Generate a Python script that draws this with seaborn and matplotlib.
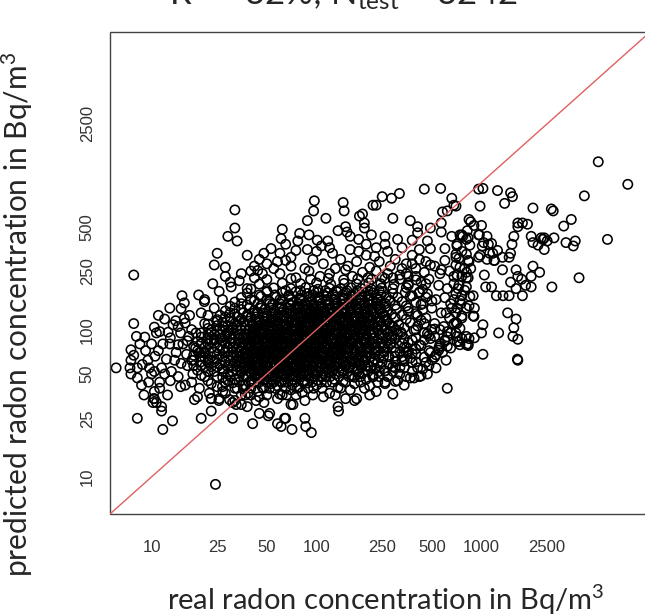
import matplotlib.pyplot as plt
import seaborn as sns
from matplotlib.patches import Rectangle

# (real, predicted) radon concentration in Bq/m3
core_points = [
    (32, 33), (45, 35), (58, 34), (66, 36), (85, 33), (110, 35), (150, 34), (210, 36),
    (28, 37), (36, 39.5), (44, 38), (52, 40), (60, 36.5), (70, 39), (82, 37.5), (96, 40), (120, 37), (160, 39), (230, 38), (290, 36.5),
    (25, 41), (31, 43.5), (37, 42), (42, 44), (47, 40.5), (53, 43), (58, 41.5), (64, 44), (71, 42), (78, 40.5), (88, 43.5), (100, 42),
    (115, 44), (135, 40.5), (170, 43), (210, 41.5), (260, 44), (340, 42),
    (22, 45), (27, 47.5), (32, 46), (36, 48), (40, 44.5), (44, 47), (48, 45.5), (52, 48), (56, 46), (61, 44.5), (66, 47.5), (72, 46),
    (78, 48), (85, 44.5), (93, 47), (102, 45.5), (114, 48), (128, 46), (145, 44.5), (170, 47.5), (200, 46), (240, 48), (300, 44.5), (390, 47),
    (20, 49), (24, 52), (29, 50), (33, 52.5), (37, 48.5), (40, 51), (43, 49.5), (46, 52.5), (50, 50), (54, 48.5), (58, 51.5), (62, 50),
    (67, 52.5), (72, 48.5), (77, 51), (83, 49.5), (90, 52.5), (98, 50), (107, 48.5), (118, 51.5), (130, 50), (145, 52.5), (165, 48.5),
    (190, 51), (220, 49.5), (260, 52.5), (320, 50), (430, 48.5),
    (19, 53), (23, 56), (27, 54), (31, 56.5), (35, 52.5), (38, 55), (41, 53.5), (44, 56.5), (47, 54), (51, 52.5), (55, 55.5), (59, 54),
    (63, 56.5), (68, 52.5), (73, 55), (78, 53.5), (84, 56.5), (91, 54), (99, 52.5), (108, 55.5), (118, 54), (130, 56.5), (143, 52.5),
    (158, 55), (176, 53.5), (198, 56.5), (225, 54), (260, 52.5), (320, 55.5), (440, 54),
    (18, 57), (22, 60), (26, 58), (30, 61), (34, 56.5), (37, 59.5), (40, 57.5), (43, 60.5), (46, 58), (49, 56.5), (53, 59.5), (57, 58),
    (61, 61), (65, 56.5), (70, 59), (75, 57.5), (80, 60.5), (86, 58), (93, 56.5), (100, 59.5), (108, 58), (117, 61), (127, 56.5),
    (138, 59), (150, 57.5), (165, 60.5), (182, 58), (205, 56.5), (235, 59.5), (275, 58), (340, 61), (480, 57),
    (18, 62), (21, 65), (25, 63), (29, 66), (33, 61), (36, 64), (39, 62.5), (42, 65.5), (45, 63), (48, 61), (51, 64.5), (55, 63),
    (59, 66), (63, 61), (67, 64), (72, 62.5), (77, 65.5), (82, 63), (88, 61), (95, 64.5), (102, 63), (110, 66), (119, 61), (129, 64),
    (140, 62.5), (152, 65.5), (166, 63), (182, 61), (200, 64.5), (225, 63), (255, 66), (300, 61), (370, 64), (500, 62.5),
    (18, 67), (21, 70), (25, 68), (29, 71), (33, 66), (36, 69), (39, 67.5), (42, 70.5), (45, 68), (48, 66), (51, 69.5), (55, 68),
    (59, 71), (63, 66), (67, 69), (72, 67.5), (77, 70.5), (82, 68), (88, 66), (95, 69.5), (102, 68), (110, 71), (119, 66), (129, 69),
    (140, 67.5), (152, 70.5), (166, 68), (182, 66), (200, 69.5), (225, 68), (255, 71), (300, 66), (380, 69), (530, 67.5),
    (19, 72), (23, 75), (27, 73), (31, 76), (35, 71), (38, 74), (41, 72.5), (44, 75.5), (47, 73), (50, 71), (54, 74.5), (58, 73),
    (62, 76), (66, 71), (70, 74), (75, 72.5), (80, 75.5), (86, 73), (92, 71), (99, 74.5), (106, 73), (114, 76), (123, 71), (133, 74),
    (144, 72.5), (157, 75.5), (172, 73), (190, 71), (210, 74.5), (235, 73), (270, 76), (320, 71), (400, 74), (550, 72.5),
    (18, 77), (22, 80), (26, 78), (30, 81), (34, 76), (37, 79), (40, 77.5), (43, 80.5), (46, 78), (49, 76), (53, 79.5), (57, 78),
    (61, 81), (65, 76), (70, 79), (75, 77.5), (80, 80.5), (86, 78), (93, 76), (100, 79.5), (108, 78), (117, 81), (127, 76), (138, 79),
    (150, 77.5), (165, 80.5), (182, 78), (200, 76), (222, 79.5), (250, 78), (285, 81), (340, 76), (420, 79), (560, 77.5),
    (19, 83), (23, 86), (27, 84), (31, 87), (35, 82), (38, 85), (41, 83.5), (44, 86.5), (48, 84), (52, 82), (56, 85.5), (60, 84),
    (64, 87), (69, 82), (74, 85), (79, 83.5), (85, 86.5), (91, 84), (98, 82), (106, 85.5), (114, 84), (123, 87), (133, 82), (145, 85),
    (158, 83.5), (172, 86.5), (190, 84), (210, 82), (235, 85.5), (265, 84), (300, 87), (360, 82), (450, 85), (600, 83.5),
    (20, 89), (24, 92), (28, 90), (32, 93), (36, 88), (40, 91), (43, 89.5), (47, 92.5), (51, 90), (55, 88), (59, 91.5), (63, 90),
    (68, 93), (73, 88), (78, 91), (84, 89.5), (90, 92.5), (97, 90), (104, 88), (112, 91.5), (121, 90), (131, 93), (142, 88), (154, 91),
    (168, 89.5), (184, 92.5), (202, 90), (224, 88), (250, 91.5), (285, 90), (330, 93), (400, 88), (480, 91), (620, 89.5),
    (20, 95), (25, 98), (29, 96), (33, 99), (37, 94), (41, 97), (45, 95.5), (49, 98.5), (53, 96), (57, 94), (62, 97.5), (67, 96),
    (72, 99), (77, 94), (83, 97), (89, 95.5), (96, 98.5), (103, 96), (111, 94), (120, 97.5), (130, 96), (141, 99), (153, 94), (167, 97),
    (183, 95.5), (200, 98.5), (222, 96), (248, 94), (280, 97.5), (325, 96), (390, 99), (470, 94),
    (22, 102), (27, 105), (31, 103), (35, 106), (39, 101), (43, 104), (47, 102.5), (51, 105.5), (55, 103), (60, 101), (65, 104.5),
    (70, 103), (75, 106), (81, 101), (87, 104), (94, 102.5), (101, 105.5), (109, 103), (117, 101), (126, 104.5), (136, 103), (147, 106),
    (160, 101), (174, 104), (190, 102.5), (208, 105.5), (230, 103), (258, 101), (292, 104.5), (340, 103), (410, 106), (520, 101),
    (22, 109), (27, 112), (32, 110), (36, 113), (41, 108), (45, 111), (50, 109.5), (55, 112.5), (60, 110), (65, 108), (70, 111.5),
    (76, 110), (82, 113), (89, 108), (96, 111), (104, 109.5), (112, 112.5), (121, 110), (131, 108), (142, 111.5), (154, 110), (168, 113),
    (183, 108), (200, 111), (220, 109.5), (245, 112.5), (275, 110), (315, 108), (370, 111.5), (450, 110),
    (25, 117), (30, 120), (35, 118), (40, 121), (45, 116), (50, 119), (55, 117.5), (60, 120.5), (66, 118), (72, 116), (78, 119.5),
    (85, 118), (92, 121), (100, 116), (108, 119), (117, 117.5), (127, 120.5), (138, 118), (150, 116), (163, 119.5), (178, 118),
    (195, 121), (215, 116), (238, 119), (265, 117.5), (300, 120.5), (350, 118), (430, 116),
    (26, 125), (32, 128), (38, 126), (44, 129), (50, 124), (56, 127), (62, 125.5), (68, 128.5), (74, 126), (81, 124), (88, 127.5),
    (96, 126), (104, 129), (113, 124), (123, 127), (134, 125.5), (146, 128.5), (159, 126), (174, 124), (190, 127.5), (208, 126),
    (230, 129), (255, 124), (285, 127), (330, 125.5), (400, 128.5),
    (28, 134), (35, 137), (42, 135), (49, 138), (56, 133), (63, 136), (70, 134.5), (77, 137.5), (85, 135), (93, 133), (102, 136.5),
    (112, 135), (123, 138), (135, 133), (148, 136), (162, 134.5), (178, 137.5), (196, 135), (216, 133), (240, 136.5), (268, 135),
    (305, 138), (360, 133), (440, 136),
    (30, 144), (38, 147), (46, 145), (54, 148), (62, 143), (70, 146), (78, 144.5), (87, 147.5), (96, 145), (106, 143), (117, 146.5),
    (129, 145), (142, 148), (156, 143), (172, 146), (190, 144.5), (210, 147.5), (234, 145), (262, 143), (300, 146.5), (350, 145), (430, 148),
    (32, 154), (42, 157), (52, 155), (62, 158), (72, 153), (82, 156), (92, 154.5), (103, 157.5), (115, 155), (128, 153), (142, 156.5),
    (158, 155), (175, 158), (195, 153), (218, 156), (245, 154.5), (280, 157.5), (330, 155), (400, 153), (500, 156.5),
    (35, 165), (46, 168), (57, 166), (68, 169), (79, 164), (90, 167), (102, 165.5), (115, 168.5), (130, 166), (146, 164), (164, 167.5),
    (184, 166), (206, 169), (232, 164), (265, 167), (310, 165.5), (370, 168.5), (460, 166),
    (38, 177), (50, 180), (62, 178), (75, 181), (88, 176), (102, 179), (117, 177.5), (133, 180.5), (151, 178), (171, 176), (194, 179.5),
    (220, 178), (252, 181), (290, 176), (345, 179), (420, 177.5),
    (40, 189), (55, 192), (70, 190), (86, 193), (102, 188), (120, 191), (140, 189.5), (162, 192.5), (187, 190), (215, 188), (248, 191.5),
    (290, 190), (350, 193), (440, 188),
    (45, 204), (62, 207), (80, 205), (100, 208), (122, 203), (147, 206), (175, 204.5), (207, 207.5), (245, 205), (295, 203), (360, 206.5), (460, 205),
    (50, 219), (70, 222), (92, 220), (118, 223), (146, 218), (178, 221), (215, 219.5), (260, 222.5), (320, 220), (400, 218),
]

# densest part of the cloud: (predicted, [real values]) per band
core_rows = [
    (36, [35, 50, 62, 75, 95, 130]),
    (40, [32, 40, 48, 56, 65, 76, 89, 108, 140, 195]),
    (44, [28, 34, 39, 45, 50, 55, 61, 67, 74, 83, 94, 107, 125, 150, 185, 235]),
    (48, [25, 30, 34, 38, 42, 46, 50, 54, 58, 63, 69, 75, 81, 89, 97, 108, 121, 137, 157, 185, 220, 270, 350]),
    (52, [22, 27, 31, 35, 39, 42, 45, 48, 52, 56, 60, 65, 70, 75, 80, 87, 94, 102, 112, 124, 137, 155, 177, 205, 240, 290, 380]),
    (56, [21, 25, 29, 33, 36, 39, 42, 45, 49, 53, 57, 61, 66, 71, 76, 81, 88, 95, 103, 113, 124, 136, 150, 167, 187, 212, 245, 290]),
    (60.5, [20, 24, 28, 32, 35, 38, 41, 44, 47, 51, 55, 59, 63, 68, 72, 77, 83, 90, 97, 104, 112, 122, 132, 145, 158, 173, 193, 218, 250, 300, 400]),
    (65.5, [20, 23, 27, 31, 34, 37, 40, 43, 46, 50, 53, 57, 61, 65, 70, 74, 79, 85, 91, 98, 106, 114, 124, 134, 146, 159, 174, 191, 212, 240, 275, 330]),
    (70.5, [20, 24, 28, 31, 34, 37, 40, 43, 46, 49, 52, 56, 60, 64, 68, 73, 78, 84, 90, 96, 103, 111, 120, 130, 142, 155, 170, 186, 205, 228, 258, 300, 360]),
    (75.5, [21, 25, 29, 33, 36, 39, 42, 45, 48, 52, 56, 60, 64, 68, 72, 77, 83, 89, 96, 103, 111, 120, 130, 141, 153, 167, 183, 202, 225, 255, 295, 350]),
    (81, [20, 24, 28, 32, 36, 39, 42, 45, 49, 53, 57, 61, 65, 70, 75, 80, 86, 92, 99, 107, 116, 126, 137, 149, 162, 177, 195, 218, 245, 280, 330]),
    (87, [22, 26, 30, 34, 37, 40, 44, 48, 52, 56, 60, 65, 70, 75, 81, 87, 94, 101, 109, 118, 128, 139, 151, 164, 180, 198, 220, 248, 285, 340]),
    (93, [22, 26, 30, 34, 38, 42, 46, 50, 54, 58, 63, 68, 73, 78, 84, 91, 98, 106, 115, 125, 136, 148, 161, 176, 194, 215, 240, 270, 310]),
    (99.5, [23, 27, 31, 35, 39, 43, 47, 51, 55, 60, 65, 70, 75, 81, 88, 95, 103, 112, 122, 133, 145, 158, 173, 190, 210, 235, 265, 305]),
    (106.5, [25, 29, 33, 37, 41, 45, 49, 53, 58, 63, 68, 73, 79, 85, 92, 100, 108, 117, 127, 138, 150, 164, 180, 198, 220, 248, 285]),
    (114, [25, 30, 34, 39, 43, 48, 53, 58, 63, 68, 74, 80, 87, 94, 102, 111, 121, 132, 144, 157, 172, 190, 210, 235, 268]),
    (122, [28, 33, 38, 43, 48, 53, 58, 64, 70, 76, 83, 90, 98, 107, 117, 128, 140, 153, 168, 185, 205, 230, 262]),
    (130, [30, 36, 42, 48, 54, 60, 66, 72, 79, 86, 94, 103, 113, 124, 136, 149, 164, 181, 200, 223, 250]),
    (140, [32, 39, 46, 53, 60, 67, 74, 82, 90, 99, 109, 120, 132, 145, 160, 177, 196, 218, 245]),
    (150, [35, 44, 52, 60, 68, 77, 86, 96, 107, 119, 132, 147, 164, 183, 205, 230, 262]),
    (160, [40, 50, 60, 70, 80, 91, 103, 116, 130, 146, 164, 185, 208, 236]),
    (172, [45, 56, 68, 81, 95, 110, 126, 144, 164, 187, 213, 245]),
    (184, [50, 65, 80, 96, 113, 132, 153, 177, 205, 240]),
]

lower_points = [
    (24.4, 8.9), (8.2, 25), (11.7, 21), (13.4, 24), (15, 41), (20, 25), (23, 28), (31, 25), (41, 23), (45, 27), (51, 26),
    (58, 23), (61, 22), (71, 21), (86, 22), (93, 20), (136, 28), (170, 33), (9, 36), (10.4, 34), (10.2, 32), (11.5, 28),
    (19, 35), (23, 34), (25.6, 33), (35, 31), (37, 36), (48, 32), (64, 25), (52, 27), (70, 31), (85, 25), (72, 31),
    (65, 25), (135, 30), (175, 34), (620, 40), (260, 43), (310, 45), (220, 48), (180, 50), (410, 55), (300, 55),
    (340, 55), (450, 65), (610, 62), (490, 70), (550, 75), (620, 77), (710, 83), (810, 79), (840, 87), (620, 97),
    (710, 110), (500, 100), (490, 87), (1020, 68), (1650, 63), (1660, 62), (830, 78), (740, 79), (760, 87), (1550, 90),
    (1660, 86), (1270, 95), (1000, 95), (1020, 108), (900, 123), (660, 140), (840, 145), (760, 170),
    (23, 43), (22.4, 37), (23, 34), (25.7, 34), (26.9, 41), (29.7, 33.5), (32.6, 31), (38.4, 37), (31, 32),
    (27, 38), (29, 45), (33, 40), (36, 42), (40, 36), (43, 33), (38, 30),
]

left_points = [
    (7.8, 235), (7.8, 110), (6.1, 55), (8.1, 90), (9.1, 89), (7.5, 73), (7.5, 62), (7.8, 67), (7.4, 55), (8.2, 55),
    (7.5, 50), (8.2, 47), (9.5, 62), (9.7, 55), (10, 50), (10.4, 52), (11.5, 55), (12, 50), (11.2, 44), (11.2, 40),
    (10.4, 38), (10.3, 34), (10.7, 32), (11.5, 30), (10, 80), (10.7, 95), (10.4, 104), (11.2, 97), (11.7, 80),
    (12.9, 80), (13.5, 108), (12.6, 96), (14.1, 70), (13.2, 52), (12.9, 140), (15.3, 170), (15.8, 152), (15.1, 139),
    (15.8, 119), (16, 111), (14.5, 105), (15.5, 80), (14.5, 79), (16.3, 68), (15.1, 59), (16.5, 57), (18.2, 33.5),
    (19.5, 40), (17.5, 44), (17.8, 50), (20, 57), (19.3, 172), (20.9, 155), (20, 130), (21, 110), (18.6, 95), (20, 80),
    (19.5, 70), (8.5, 80), (9.2, 72), (8.8, 58), (10.5, 66), (11, 72), (12.3, 63), (13, 88), (13.8, 62), (14.5, 48),
    (16.8, 90), (17.5, 100), (17, 125), (16, 42), (13, 45), (12.5, 36), (9.6, 44), (8.7, 42), (17.5, 62), (18.5, 75),
    (16.5, 84), (14, 115), (12, 118), (11, 125), (15, 95), (22, 125), (24, 140), (21, 160), (23, 95), (24, 85),
    (21, 70), (22, 62), (21, 48),
]

upper_points = [
    (23.5, 205), (25.7, 182), (26.9, 160), (30, 210), (30.4, 195), (35, 240), (40, 250), (44, 252), (50, 280),
    (58, 290), (65, 295), (32, 650), (32, 490), (29, 430), (33, 400), (62, 480), (61, 415), (53, 355), (25, 330),
    (24, 275), (28, 265), (28, 230), (34, 215), (38, 190), (42, 225), (47, 240), (55, 260), (45, 300), (38, 320),
    (48, 330), (60, 330), (70, 310), (75, 345), (42, 270),
    (97, 750), (96, 640), (145, 730), (147, 640), (114, 570), (88, 550), (79, 450), (77, 400), (90, 440), (88, 350),
    (101, 405), (107, 370), (117, 400), (135, 470), (150, 500), (153, 460), (182, 590), (195, 530), (195, 490),
    (220, 700), (230, 700), (190, 610), (250, 800), (285, 780), (318, 840), (450, 900), (565, 910), (660, 780),
    (680, 700), (620, 640), (580, 630), (290, 570), (370, 550), (410, 500), (490, 490), (570, 530), (840, 560),
    (820, 470), (760, 440), (660, 430), (570, 460), (470, 400), (380, 405), (310, 410), (260, 430), (215, 440),
    (180, 410), (160, 430), (410, 455), (490, 355), (600, 355), (710, 370), (810, 325), (700, 310), (600, 295),
    (860, 260), (810, 225), (680, 205), (570, 255), (490, 275), (450, 245),
    (95, 300), (110, 280), (125, 330), (140, 300), (160, 350), (175, 290), (200, 320), (230, 360), (240, 290),
    (270, 340), (300, 300), (330, 360), (350, 280), (380, 320), (400, 260), (130, 260), (155, 270), (210, 265),
    (280, 270), (120, 360), (100, 340), (260, 380), (330, 260), (65, 380), (70, 270), (85, 260), (200, 380),
    (420, 350), (180, 340), (225, 315),
    (60, 240), (90, 250), (120, 240), (150, 255), (190, 245), (230, 250), (270, 240), (320, 235), (75, 225),
    (105, 230), (165, 230), (205, 225), (250, 228), (290, 225), (360, 230),
]

right_points = [
    (5100, 1380), (7700, 970), (4200, 810), (5800, 410), (3900, 225), (2670, 195), (3500, 560), (3150, 505),
    (3250, 390), (3700, 400), (3600, 370), (2750, 420), (2720, 640), (2050, 670), (2400, 420), (2500, 400),
    (2400, 350), (2300, 420), (2250, 245), (2050, 270), (2000, 230), (2000, 195), (1850, 200), (1750, 220),
    (1770, 170), (1620, 255), (1660, 230), (1620, 190), (1500, 210), (1470, 170), (1340, 255), (1230, 170),
    (1350, 170), (1440, 130), (1620, 118), (1570, 103), (890, 170), (810, 195), (790, 260), (760, 230), (840, 290),
    (960, 310), (1080, 300), (1120, 330), (1100, 380), (1030, 390), (980, 320), (1200, 295), (1340, 310),
    (1470, 310), (1500, 330), (1570, 430), (1530, 380), (1660, 500), (1770, 530), (1900, 520), (1660, 530),
    (2000, 430), (2050, 390), (2200, 375), (2350, 410), (860, 540), (900, 510), (1000, 510), (770, 430), (830, 420),
    (960, 440), (980, 690), (960, 900), (1020, 910), (1250, 880), (1500, 850), (1540, 800), (1380, 720), (2650, 660),
    (700, 690), (740, 440), (810, 410), (710, 380), (850, 375), (760, 340), (700, 325), (730, 305), (830, 295),
    (700, 275), (740, 265), (810, 245), (710, 235), (830, 225), (730, 200), (790, 185), (700, 175), (850, 168),
    (740, 158), (710, 140), (810, 140), (905, 140), (760, 124), (890, 124), (700, 112), (740, 102), (710, 90),
    (810, 90), (730, 83), (830, 80), (905, 88), (1040, 235), (1060, 195), (1150, 195), (1010, 370), (970, 440),
    (1080, 430), (1150, 385), (1170, 330), (1250, 345), (1190, 295),
    (380, 280), (420, 300), (460, 290), (520, 270), (560, 240), (640, 250), (400, 230), (350, 240), (430, 210),
    (480, 220), (550, 200), (620, 190), (680, 230), (360, 200), (420, 180), (470, 175), (530, 160), (600, 165),
    (650, 150), (380, 170), (440, 150), (500, 140), (570, 130), (640, 120), (700, 130), (360, 140), (410, 125),
    (460, 120), (520, 110), (590, 105), (650, 95), (400, 100), (450, 95), (520, 90), (560, 80), (380, 85),
    (430, 78), (480, 72), (350, 70), (400, 68), (460, 60), (520, 65), (580, 70), (380, 60), (330, 62), (560, 100),
    (610, 130), (680, 160), (720, 190), (750, 150), (760, 120), (680, 110), (700, 95), (650, 75), (600, 85),
    (530, 55), (470, 50), (420, 48), (370, 47),
]

tick_values = [10, 25, 50, 100, 250, 500, 1000, 2500, 5000]
x_tick_labels = ['10', '25', '50', '100', '250', '500', '1000', '2500', '']
y_tick_labels = ['10', '25', '50', '100', '250', '500', '', '2500', '']
axis_range = (5.6, 10500)

title_text = r'R$^2$ = 32%; N$_{\mathrm{test}}$ = 3242'
x_label = 'real radon concentration in Bq/m$^3$'
y_label = 'predicted radon concentration in Bq/m$^3$'

sns.set_style('white')
plt.rcParams['font.family'] = ['Liberation Sans', 'DejaVu Sans']
plt.rcParams['mathtext.fontset'] = 'custom'
plt.rcParams['mathtext.rm'] = 'Lato'
plt.rcParams['mathtext.it'] = 'Lato'

all_points = core_points + lower_points + left_points + upper_points + right_points
for pred_value, real_values in core_rows:
    all_points += [(r, pred_value) for r in real_values]
real = [p[0] for p in all_points]
predicted = [p[1] for p in all_points]

fig = plt.figure(figsize=(6.45, 6.16), dpi=100)
ax = fig.add_axes([110 / 645, 102 / 616, 540 / 645, 482 / 616])

sns.scatterplot(x=real, y=predicted, ax=ax, marker='o', s=45,
                facecolor='none', edgecolor='black', linewidth=1.15)
ax.axline((10, 10), (100, 100), color='#e06060', linewidth=1.0)

ax.set_xscale('log')
ax.set_yscale('log')
ax.set_xlim(axis_range)
ax.set_ylim(axis_range)
ax.minorticks_off()
ax.set_xticks(tick_values)
ax.set_xticklabels(x_tick_labels)
ax.set_yticks(tick_values)
ax.set_yticklabels(y_tick_labels)

for side in ['left', 'bottom']:
    ax.spines[side].set_position(('outward', 4))
for side in ax.spines:
    ax.spines[side].set_visible(False)
ax.add_patch(Rectangle((0, 0), 1, 1, transform=ax.transAxes, fill=False,
                       edgecolor='#444444', linewidth=1.0, clip_on=False))

ax.tick_params(axis='both', direction='out', length=5, width=0.8, color='#333333',
               labelsize=12, labelcolor='#333333')
ax.tick_params(axis='x', pad=10)
ax.tick_params(axis='y', pad=2, labelrotation=90)
for lab in ax.get_yticklabels():
    lab.set_verticalalignment('center')
ax.set_xlabel('')
ax.set_ylabel('')

fig.text(386 / 645, 6 / 616, x_label, ha='center', va='baseline',
         fontsize=21, family='Lato')
fig.text(17 / 645, 302 / 616, y_label, ha='center', va='center', rotation=90,
         fontsize=21.5, family='Lato')
fig.text(343 / 645, 1 - 5 / 616, title_text, ha='center', va='baseline',
         fontsize=25, family='Lato')

fig.savefig('out.png', dpi=100)
